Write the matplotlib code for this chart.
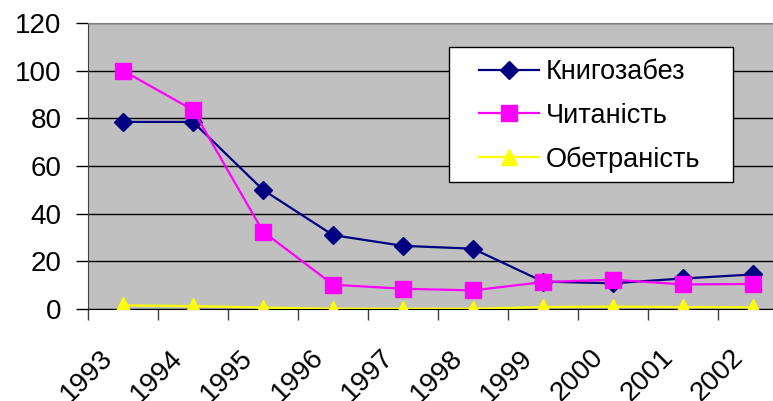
import matplotlib
matplotlib.use("Agg")
import matplotlib.pyplot as plt
from matplotlib.patches import Rectangle
from matplotlib.ticker import FixedLocator, NullFormatter
from matplotlib.transforms import ScaledTranslation

years = ["1993", "1994", "1995", "1996", "1997", "1998", "1999", "2000", "2001", "2002"]
knyhozabez = [78.5, 78.5, 50, 31, 26.5, 25.3, 11.5, 10.8, 12.8, 14.5]
chytanist = [100, 83.5, 32.5, 10.2, 8.5, 7.8, 11.3, 12.3, 10.3, 10.5]
obetranist = [1.5, 1.2, 0.6, 0.1, 0.1, 0.1, 0.8, 1.0, 0.8, 0.7]

plt.rcParams["font.family"] = ["Liberation Sans", "DejaVu Sans"]

W, H = 773, 401


def main():
  fig = plt.figure(figsize=(W / 100, H / 100), dpi=100)
  ax = fig.add_axes([88 / W, 1 - 309 / H, 700 / W, (309 - 23) / H])
  ax.set_facecolor("#C0C0C0")

  x = list(range(len(years)))
  ax.plot(x, knyhozabez, color="#000080", lw=1.6, marker="D", ms=9,
          label="Книгозабез", zorder=3)
  ax.plot(x, chytanist, color="#FF00FF", lw=1.6, marker="s", ms=11,
          label="Читаність", zorder=4)
  ax.plot(x, obetranist, color="#FFFF00", lw=1.6, marker="^", ms=12,
          label="Обетраність", zorder=5)

  ax.set_xlim(-0.5, len(years) - 0.5)
  ax.set_ylim(0, 120)
  ax.set_yticks(range(0, 121, 20))
  ax.yaxis.grid(True, color="black", lw=1)
  ax.set_axisbelow(True)
  ax.tick_params(axis="y", labelsize=20, length=9, width=1, pad=10)

  ax.set_xticks(x)
  ax.set_xticklabels(years, rotation=45, ha="right", va="top",
                     rotation_mode="anchor", fontsize=20)
  ax.tick_params(axis="x", which="major", length=0, pad=22)
  shift = ScaledTranslation(-0.23, -0.05, fig.dpi_scale_trans)
  for lbl in ax.get_xticklabels():
    lbl.set_transform(lbl.get_transform() + shift)
  ax.xaxis.set_minor_locator(FixedLocator([i - 0.5 for i in range(len(years) + 1)]))
  ax.xaxis.set_minor_formatter(NullFormatter())
  ax.tick_params(axis="x", which="minor", length=8, width=1, color="#404040")

  for s in ("top", "right"):
    ax.spines[s].set_color("#808080")
  ax.spines["left"].set_color("#404040")
  ax.spines["bottom"].set_color("black")

  # legend box drawn separately, legend entries placed inside it
  box = Rectangle((449 / W, 1 - 182 / H), (733 - 449) / W, (182 - 47) / H,
                  transform=fig.transFigure, facecolor="white",
                  edgecolor="black", lw=1, zorder=10)
  fig.patches.append(box)
  leg = fig.legend(loc="upper left", bbox_to_anchor=(479 / W, 1 - 59 / H),
                   fontsize=19.5, frameon=False, handlelength=2.2,
                   borderpad=0, labelspacing=0.65, handletextpad=0.26,
                   borderaxespad=0)
  leg.set_zorder(11)

  fig.savefig("out.png", dpi=100)


if __name__ == "__main__":

  main()
